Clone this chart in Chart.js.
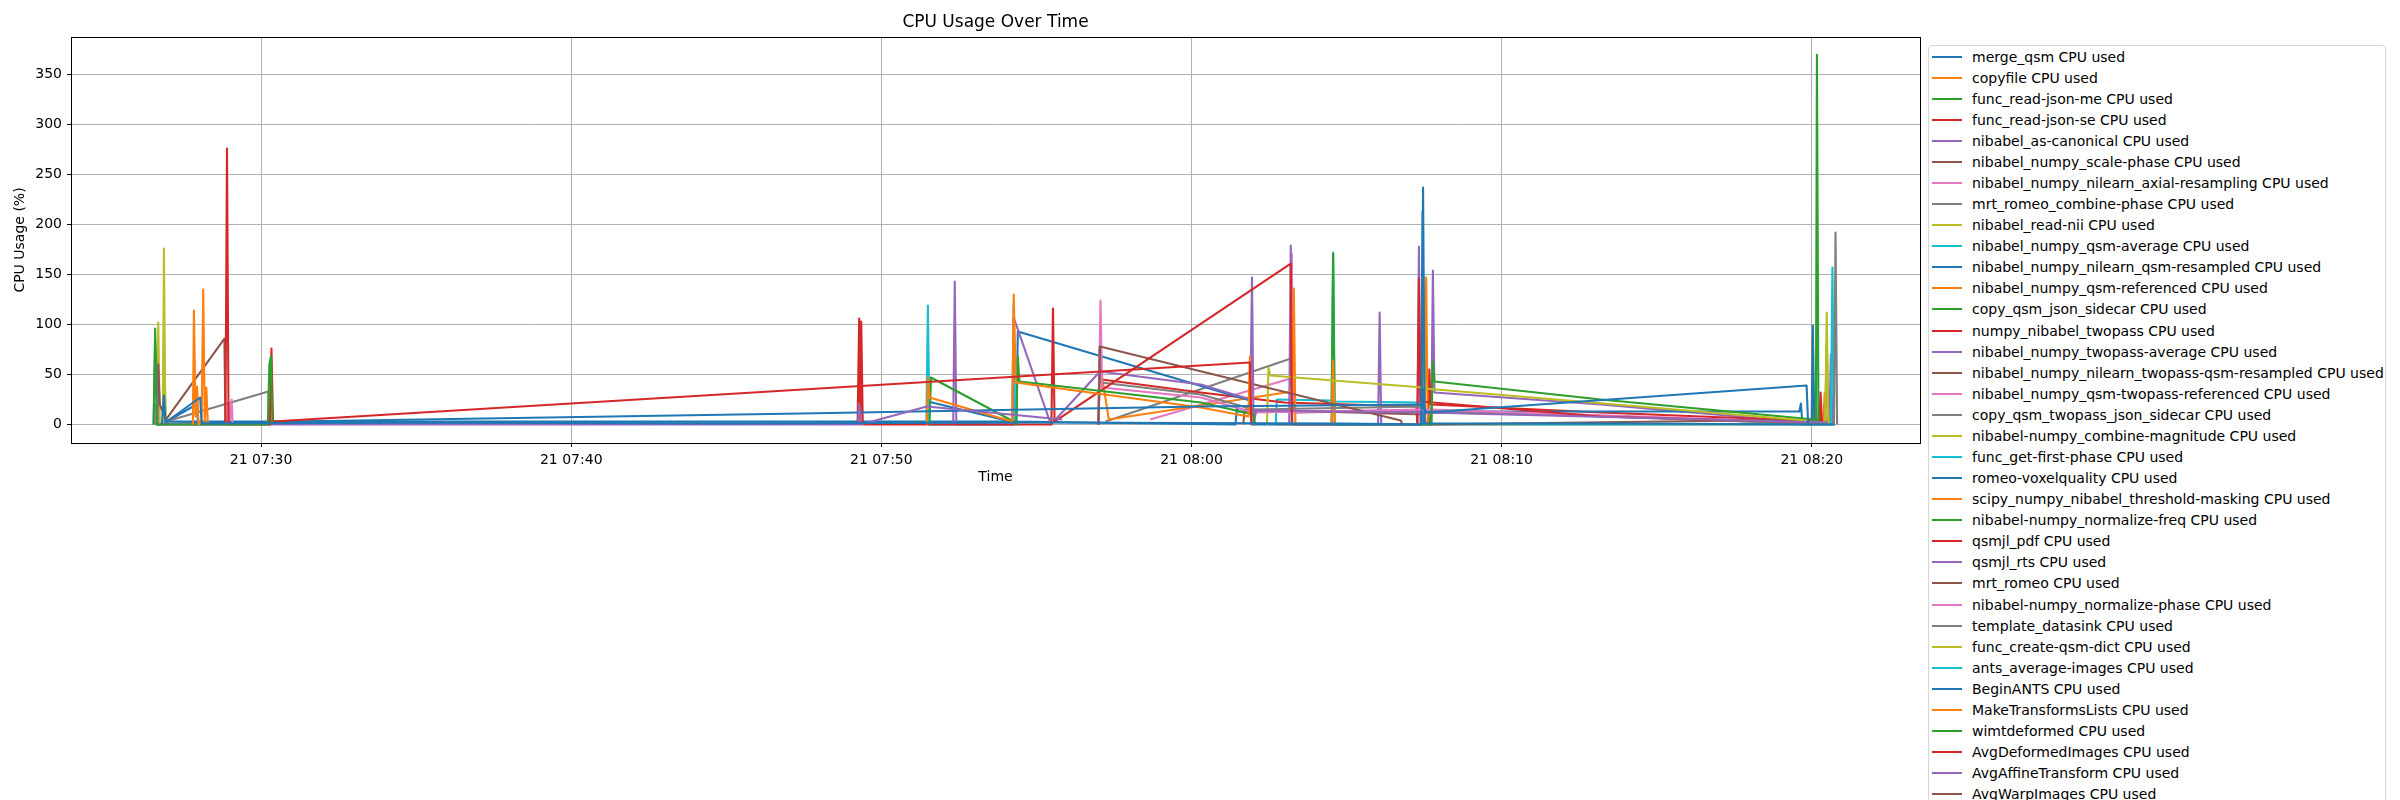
<!DOCTYPE html>
<html>
<head>
<meta charset="utf-8">
<script src="https://cdn.jsdelivr.net/npm/chart.js@4.4.1/dist/chart.umd.min.js"></script>
<style>
  body { margin: 0; background: #fff; overflow: hidden; }
  #wrap { position: relative; width: 2400px; height: 800px; overflow: hidden; }
  #legend {
    position: absolute; left: 1928px; top: 45px; width: 456px;
    border: 1px solid #d6d6d6; border-radius: 4px; background: #fff;
    font-family: 'DejaVu Sans', sans-serif; font-size: 14px; color: #000;
  }
  .row { height: 21.08px; display: flex; align-items: center; white-space: nowrap; }
  .swatch { width: 30px; height: 2px; margin-left: 3px; margin-right: 10px; }
</style>
</head>
<body>
<div id="wrap">
  <canvas id="cpuchart" width="2400" height="800"></canvas>
  <div id="legend"></div>
</div>
<script>
const seriesNames = [
  'merge_qsm', 'copyfile', 'func_read-json-me', 'func_read-json-se', 'nibabel_as-canonical',
  'nibabel_numpy_scale-phase', 'nibabel_numpy_nilearn_axial-resampling', 'mrt_romeo_combine-phase',
  'nibabel_read-nii', 'nibabel_numpy_qsm-average', 'nibabel_numpy_nilearn_qsm-resampled',
  'nibabel_numpy_qsm-referenced', 'copy_qsm_json_sidecar', 'numpy_nibabel_twopass',
  'nibabel_numpy_twopass-average', 'nibabel_numpy_nilearn_twopass-qsm-resampled',
  'nibabel_numpy_qsm-twopass-referenced', 'copy_qsm_twopass_json_sidecar',
  'nibabel-numpy_combine-magnitude', 'func_get-first-phase', 'romeo-voxelquality',
  'scipy_numpy_nibabel_threshold-masking', 'nibabel-numpy_normalize-freq', 'qsmjl_pdf',
  'qsmjl_rts', 'mrt_romeo', 'nibabel-numpy_normalize-phase', 'template_datasink',
  'func_create-qsm-dict', 'ants_average-images', 'BeginANTS', 'MakeTransformsLists',
  'wimtdeformed', 'AvgDeformedImages', 'AvgAffineTransform', 'AvgWarpImages'
]

const seriesTimes = [
  ['07:26:48','07:26:52','07:26:55','07:28:02','07:28:05','07:35:00','07:45:00','07:55:00','08:05:00','08:07:25','08:07:28','08:07:31','08:14:00','08:20:45'],
  ['07:27:48','07:27:50','07:27:53','07:27:56','07:27:59','07:28:05','07:28:08','07:28:11','07:28:14','07:28:17'],
  ['07:26:32','07:26:35','07:26:38','07:30:13','07:30:16','07:30:19','07:30:22'],
  ['07:28:51','07:28:54','07:28:57','07:30:17','07:30:20','07:30:23','08:01:53','08:01:56'],
  ['07:26:32','07:26:35','07:26:37','07:26:40','07:49:15','07:49:17','07:49:20','07:51:28','07:55:50'],
  ['07:26:39','07:26:41','07:26:44','07:26:56','07:28:49','07:28:51'],
  ['07:26:34','07:26:36','07:26:39','07:28:55','07:28:57','07:29:00','07:29:03','07:29:05'],
  ['07:26:54','07:26:56','07:30:14','07:30:16'],
  ['07:26:39','07:26:41','07:26:44','07:26:50','07:26:52','07:26:54','07:26:56'],
  ['07:26:33','07:26:35','07:26:37','07:26:50','07:26:52','07:26:55'],
  ['07:26:53','07:26:56','07:47:25','08:00:18','08:07:26','08:07:35','08:19:50','08:19:53'],
  ['07:51:28','07:51:30','07:51:33','07:54:13','07:54:16','07:54:20','08:00:18','08:01:50','08:01:53','08:01:56'],
  ['07:51:33','07:51:36','07:54:16','07:54:21','07:54:24','07:54:27','08:00:18','08:02:00','08:02:03'],
  ['07:49:14','07:49:17','07:49:19','07:49:21','07:49:24','07:55:29','07:55:32','07:55:35','08:03:12','08:03:14'],
  ['07:52:19','07:52:22','07:52:25','07:54:14','07:54:16','07:55:28','07:57:03','08:00:18','08:01:54','08:01:57','08:02:00','08:02:05','08:07:35','08:20:30'],
  ['07:57:00','07:57:03','08:06:45','08:06:48'],
  ['07:57:00','07:57:04','07:57:07','08:00:18','08:02:00','08:07:30','08:07:33'],
  ['07:57:00','07:57:02','07:57:05','08:00:18','08:02:00','08:07:30','08:07:33'],
  ['08:02:26','08:02:29','08:02:32','08:07:27','08:07:29','08:07:31','08:19:50','08:19:53'],
  ['07:51:27','07:51:30','07:51:33','07:54:13','07:54:16','07:54:19'],
  ['07:26:57','07:27:00','07:54:18','07:54:21','07:54:24','08:01:53','08:01:56','08:07:25','08:07:27','08:07:30'],
  ['07:57:00','07:57:03','07:57:20','08:03:15','08:03:18','08:03:21','08:04:31','08:04:34','08:04:37'],
  ['08:04:31','08:04:34','08:04:37','08:07:44','08:07:47','08:07:50','08:13:12','08:20:05','08:20:08','08:20:10','08:20:13'],
  ['07:57:00','07:57:03','07:57:06','08:00:18','08:03:00','08:07:15','08:07:17','08:07:20','08:07:23','08:13:12','08:20:15','08:20:17','08:20:20'],
  ['08:03:09','08:03:12','08:03:15','08:06:01','08:06:04','08:06:07','08:07:17','08:07:20','08:07:23'],
  ['08:01:40','08:01:43','08:07:30','08:07:33','08:20:20'],
  ['07:58:40','08:03:12','08:03:14','08:03:17','08:07:40','08:20:12','08:20:14','08:20:16'],
  ['07:57:14','08:03:18','08:03:20','08:07:40','08:20:43','08:20:46','08:20:49'],
  ['08:20:26','08:20:29','08:20:32'],
  ['08:02:43','08:02:45','08:04:31','08:04:34','08:04:37','08:07:28','08:07:30','08:20:37','08:20:40','08:20:43'],
  ['07:26:54','07:27:55','07:27:58','07:51:28','07:51:30','07:54:10','08:01:25','08:01:28','08:01:31','08:19:36','08:19:39','08:19:42','08:20:00','08:20:02','08:20:05'],
  ['08:02:45','08:07:31','08:07:34','08:07:37','08:20:00','08:20:01','08:20:03','08:20:22','08:20:25','08:20:30','08:20:33'],
  ['08:07:40','08:07:43','08:14:00','08:20:26','08:20:29','08:20:32'],
  ['08:07:38','08:07:40','08:07:43','08:13:12','08:20:30'],
  ['08:07:44','08:07:47','08:07:50','08:13:12','08:20:34','08:20:37','08:20:40'],
  ['08:20:30','08:20:33','08:20:36']
]

const seriesCpu = [
  [0, 29, 2, 27, 1, 2, 1, 2, 1, 0, 237, 1, 1, 0],
  [0, 114, 8, 38, 0, 5, 135, 2, 37, 0],
  [0, 96, 0, 0, 60, 68, 0],
  [0, 276, 0, 0, 76, 3, 62, 0],
  [0, 85, 65, 0, 0, 21, 0, 18, 5],
  [0, 60, 20, 5, 86, 0],
  [0, 20, 0, 0, 22, 5, 25, 0],
  [0, 3, 33, 0],
  [0, 102, 0, 0, 176, 40, 0],
  [0, 15, 0, 0, 96, 0],
  [0, 1, 11, 18, 20, 12, 39, 0],
  [0, 47, 27, 3, 130, 42, 17, 8, 68, 0],
  [0, 47, 3, 0, 68, 43, 22, 10, 0],
  [0, 106, 0, 103, 0, 0, 116, 3, 161, 0],
  [0, 143, 0, 0, 107, 0, 53, 40, 25, 147, 0, 14, 12, 2],
  [0, 78, 4, 0],
  [0, 124, 37, 27, 12, 15, 0],
  [0, 78, 42, 30, 15, 18, 0],
  [0, 57, 49, 37, 148, 36, 4, 0],
  [0, 119, 0, 0, 120, 0],
  [0, 3, 3, 0, 93, 24, 0, 0, 213, 0],
  [0, 61, 5, 33, 136, 0, 0, 64, 0],
  [0, 171, 0, 0, 63, 43, 25, 5, 0, 370, 0],
  [0, 61, 45, 32, 22, 18, 0, 146, 23, 8, 2, 32, 0],
  [0, 179, 0, 0, 112, 0, 0, 178, 0],
  [0, 15, 10, 0, 5],
  [5, 46, 171, 12, 15, 2, 22, 0],
  [3, 67, 12, 14, 0, 192, 0],
  [0, 112, 0],
  [0, 25, 24, 172, 23, 22, 0, 0, 157, 0],
  [2, 20, 1, 1, 23, 3, 0, 17, 13, 13, 21, 0, 0, 99, 0],
  [0, 0, 147, 0, 0, 87, 0, 0, 31, 25, 0],
  [0, 12, 8, 0, 83, 0],
  [0, 55, 20, 12, 3],
  [0, 154, 32, 20, 0, 70, 0],
  [0, 28, 0]
]

// minutes after 07:00
const xTickMinutes = [30, 40, 50, 60, 70, 80]
const xTickLabels = ['21 07:30', '21 07:40', '21 07:50', '21 08:00', '21 08:10', '21 08:20']
const yTickValues = [0, 50, 100, 150, 200, 250, 300, 350]

const palette = ['#1f77b4', '#ff7f0e', '#2ca02c', '#d62728', '#9467bd',
                 '#8c564b', '#e377c2', '#7f7f7f', '#bcbd22', '#17becf']
const font = 'DejaVu Sans'

function toMinutes(t)
{
    const p = t.split(':').map(Number)
    return (p[0] - 7) * 60 + p[1] + p[2] / 60
}

const datasets = seriesNames.map((name, i) => ({
    label: name + ' CPU used',
    data: seriesTimes[i].map((t, j) => ({ x: toMinutes(t), y: seriesCpu[i][j] })),
    borderColor: palette[i % 10],
    backgroundColor: palette[i % 10],
    borderWidth: 2.1,
    borderJoinStyle: 'round',
    pointRadius: 0,
    tension: 0,
    fill: false
}))

const frame = {
    id: 'frame',
    afterDraw(chart) {
        const a = chart.chartArea
        const c = chart.ctx
        c.save()
        c.strokeStyle = '#000'
        c.lineWidth = 1
        c.strokeRect(Math.round(a.left) + 0.5, Math.round(a.top) + 0.5, Math.round(a.right - a.left), Math.round(a.bottom - a.top))
        c.restore()
    }
}

const ctx = document.getElementById('cpuchart')

const chart = new Chart(ctx, {
  type: 'line',
  data: { datasets: datasets },
  options: {
    responsive: false,
    animation: false,
    devicePixelRatio: 1,
    layout: { padding: { left: 0, right: 480, top: 0, bottom: 307 } },
    plugins: {
      legend: { display: false },
      tooltip: { enabled: false },
      title: {
        display: true,
        text: 'CPU Usage Over Time',
        color: '#000',
        fullSize: false,
        font: { family: font, size: 17, weight: 'normal', lineHeight: '20px' },
        padding: { top: 13, bottom: 4 }
      }
    },
    scales: {
      x: {
        type: 'linear',
        min: 23.87,
        max: 83.49,
        afterFit: (s) => { s.height = 50 },
        afterBuildTicks: (s) => { s.ticks = xTickMinutes.map(v => ({ value: v })) },
        ticks: {
          color: '#000',
          font: { family: font, size: 14 },
          padding: 5,
          maxRotation: 0,
          autoSkip: false,
          callback: (v, i) => xTickLabels[i]
        },
        grid: { color: '#b0b0b0', lineWidth: 1, tickLength: 4, tickColor: '#000' },
        border: { display: false },
        title: { display: true, text: 'Time', color: '#000', font: { family: font, size: 14 }, padding: { top: 0, bottom: 7 } }
      },
      y: {
        min: -18.5,
        max: 387.7,
        afterFit: (s) => { s.width = 71 },
        afterBuildTicks: (s) => { s.ticks = yTickValues.map(v => ({ value: v })) },
        ticks: {
          color: '#000',
          font: { family: font, size: 14 },
          padding: 5
        },
        grid: { color: '#b0b0b0', lineWidth: 1, tickLength: 4, tickColor: '#000' },
        border: { display: false },
        title: { display: true, text: 'CPU Usage (%)', color: '#000', font: { family: font, size: 14 }, padding: { top: 12, bottom: 0 } }
      }
    }
  },
  plugins: [frame]
});

const legend = document.getElementById('legend')
chart.data.datasets.forEach(ds => {
    const row = document.createElement('div')
    row.className = 'row'
    const sw = document.createElement('span')
    sw.className = 'swatch'
    sw.style.background = ds.borderColor
    const txt = document.createElement('span')
    txt.textContent = ds.label
    row.appendChild(sw)
    row.appendChild(txt)
    legend.appendChild(row)
})
</script>
</body>
</html>
